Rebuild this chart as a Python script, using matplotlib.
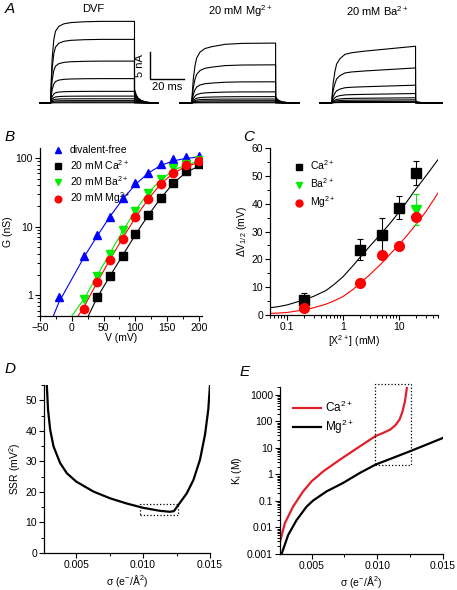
import numpy as np
import matplotlib.pyplot as plt
from matplotlib.ticker import MultipleLocator, NullFormatter, LogLocator
from matplotlib.lines import Line2D

plt.rcParams['font.family'] = ['Liberation Sans', 'DejaVu Sans']
plt.rcParams['mathtext.fontset'] = 'custom'
plt.rcParams['mathtext.rm'] = 'Liberation Sans'
plt.rcParams['mathtext.it'] = 'Liberation Sans:italic'
plt.rcParams['mathtext.default'] = 'regular'

# ---------------- panel A: current traces (nA) ----------------
rise_t = [0, 0.5, 1, 2, 3, 5, 8, 12, 20, 30, 50]
dvf_frac = [0, 0.3, 0.55, 0.78, 0.88, 0.94, 0.97, 0.985, 0.995, 1.0, 1.0]
mg_frac = [0, 0.2, 0.4, 0.62, 0.75, 0.85, 0.91, 0.94, 0.98, 0.995, 1.0]
ba_frac = [0, 0.2, 0.38, 0.58, 0.72, 0.82, 0.9, 0.93, 0.96, 0.99, 1.05]
tail_t = [0, 1, 2, 4, 7, 10, 14]
tail_frac = [1, 0.6, 0.38, 0.18, 0.07, 0.02, 0]

dvf_amp = [15.4, 12.0, 7.9, 4.6, 2.2, 1.3, 0.8, 0.45, 0.2, 0.05]
dvf_tail = [2.6, 2.3, 1.9, 1.5, 1.1, 0.8, 0.5, 0.3, 0.1, 0.0]
mg_amp = [11.3, 7.2, 4.0, 2.1, 1.2, 0.75, 0.43, 0.2, 0.05]
mg_tail = [1.2, 1.0, 0.8, 0.6, 0.4, 0.25, 0.15, 0.05, 0.0]
ba_amp = [10.2, 6.3, 3.2, 1.7, 0.94, 0.57, 0.3, 0.1]
ba_tail = [0.4, 0.3, 0.2, 0.15, 0.1, 0.05, 0.02, 0.0]

# ---------------- panel B: G-V ----------------
v_df = [-20, 20, 40, 60, 80, 100, 120, 140, 160, 180, 200]
g_df = [0.94, 3.8, 7.5, 14, 26, 43, 61, 83, 97, 102, 107]
v_div = [20, 40, 60, 80, 100, 120, 140, 160, 180, 200]
g_ba = [0.87, 1.9, 4.0, 8.9, 17, 31, 49, 71, 83, 93]
g_mg = [0.64, 1.56, 3.25, 6.7, 13.8, 25, 42, 61, 79, 91]
v_ca = [40, 60, 80, 100, 120, 140, 160, 180, 200]
g_ca = [0.95, 1.9, 3.75, 7.7, 15, 26, 44, 64, 83]

fit_v_df = [-29, -20, 20, 40, 60, 80, 100, 120, 140, 160, 180, 205]
fit_g_df = [0.5, 0.8, 3.7, 7.3, 14, 25, 41, 60, 78, 91, 99, 104]
fit_v_ba = [0, 20, 40, 60, 80, 100, 120, 140, 160, 180, 205]
fit_g_ba = [0.5, 0.9, 1.95, 4.1, 8.6, 17, 31, 48, 66, 80, 92]
fit_v_mg = [10, 20, 40, 60, 80, 100, 120, 140, 160, 180, 205]
fit_g_mg = [0.5, 0.7, 1.55, 3.3, 6.8, 13.5, 25, 42, 60, 76, 88]
fit_v_ca = [26, 40, 60, 80, 100, 120, 140, 160, 180, 205]
fit_g_ca = [0.5, 0.93, 1.9, 3.8, 7.6, 14.5, 26, 43, 62, 80]

# ---------------- panel C: dV1/2 vs [X2+] ----------------
conc = [0.2, 2, 5, 10, 20]
dv_ca = [5.4, 23.5, 28.7, 38.6, 51.0]
dv_ca_err = [2.6, 3.9, 6.0, 4.0, 4.2]
dv_mg = [2.4, 11.6, 21.5, 24.8, 35.2]
dv_mg_err = [0.6, 0.7, 1.3, 1.3, 1.0]
conc_ba = [20]
dv_ba = [37.9]
dv_ba_err = [5.4]
fit_conc = [0.05, 0.07, 0.1, 0.2, 0.3, 0.5, 0.7, 1, 1.5, 2, 3, 5, 7, 10, 14, 20, 30, 50]
fit_dv_ca = [2.6, 3.0, 3.6, 5.4, 6.7, 8.8, 11.0, 13.7, 17.6, 20.6, 24.6, 29.6, 33.0,
             36.9, 40.8, 45.2, 49.8, 55.8]
fit_dv_mg = [0.6, 0.7, 0.9, 1.8, 2.6, 3.9, 5.1, 6.6, 9.1, 11.3, 14.4, 18.7, 21.9,
             25.2, 28.6, 32.4, 37.0, 43.8]

# ---------------- panel D: SSR vs sigma ----------------
sig_d = [0.00281, 0.0029, 0.00306, 0.00331, 0.00381, 0.00431, 0.0050, 0.0063,
         0.00754, 0.00878, 0.0100, 0.01127, 0.0120, 0.0123, 0.01326, 0.01376,
         0.01425, 0.01463, 0.01487, 0.0150]
ssr = [55, 47, 40.4, 34.9, 29.4, 26.1, 23.4, 20.1, 17.9, 16.2, 14.8, 13.8,
       13.5, 13.7, 19.5, 23.9, 30.5, 38.8, 46.9, 55]

# ---------------- panel E: Ki vs sigma ----------------
sig_ca = [0.0026, 0.00297, 0.0036, 0.00436, 0.0050, 0.00588, 0.00715, 0.00842,
          0.00986, 0.0105, 0.0110, 0.0114, 0.0117, 0.0119, 0.0121, 0.01226]
ki_ca = [0.0029, 0.0145, 0.062, 0.23, 0.55, 1.3, 3.6, 9.5, 28, 38, 50, 74, 120,
         220, 560, 2000]
sig_mg = [0.00272, 0.00322, 0.00386, 0.00462, 0.00512, 0.00614, 0.0074,
          0.00867, 0.00986, 0.0126, 0.0150]
ki_mg = [0.001, 0.0052, 0.019, 0.061, 0.104, 0.23, 0.48, 1.14, 2.35, 7.9, 24]

W, H = 457, 590
fig = plt.figure(figsize=(W / 100, H / 100), dpi=100)


def px_axes(l, t, r, b):
    return fig.add_axes([l / W, 1 - b / H, (r - l) / W, (b - t) / H])


def ftext(x, y, s, **kw):
    fig.text(x / W, 1 - y / H, s, **kw)


def style(ax):
    ax.spines['top'].set_visible(False)
    ax.spines['right'].set_visible(False)
    for s in ['left', 'bottom']:
        ax.spines[s].set_linewidth(0.9)
    ax.tick_params(which='major', direction='out', length=3.5, width=0.8, labelsize=7.5, pad=1.5)
    ax.tick_params(which='minor', direction='out', length=2, width=0.7)


FS = 7.5

# ---------- A ----------
axA = px_axes(30, 15, 450, 110)
axA.set_xlim(0, 250)
axA.set_ylim(-1.32, 16.6)
axA.axis('off')


def draw_traces(amps, tails, frac, onset, pre, post):
    for a, tl in zip(amps, tails):
        t = [onset - pre] + [onset + x for x in rise_t] + [onset + 50] + \
            [onset + 50 + x for x in tail_t] + [onset + 50 + post]
        y = [0] + [a * f for f in frac] + [tl * tail_frac[0]] + \
            [tl * f for f in tail_frac] + [0]
        axA.plot(t, y, color='black', lw=0.8)


draw_traces(dvf_amp, dvf_tail, dvf_frac, 12.2, 6.2, 13.4)
draw_traces(mg_amp, mg_tail, mg_frac, 96.2, 6.9, 8.0)
draw_traces(ba_amp, ba_tail, ba_frac, 179.5, 7.0, 16.0)

# scale bar
axA.plot([71.4, 71.4, 91.4], [9.6, 4.6, 4.6], color='black', lw=1.0)
axA.text(68.5, 7.1, '5 nA', rotation=90, ha='right', va='center', fontsize=8)
axA.text(81.4, 3.9, '20 ms', ha='center', va='top', fontsize=8)

ftext(93, 9, 'DVF', ha='center', va='center', fontsize=8)
ftext(240, 11, '20 mM Mg$^{2+}$', ha='center', va='center', fontsize=8)
ftext(377, 11, '20 mM Ba$^{2+}$', ha='center', va='center', fontsize=8)

# ---------- B ----------
axB = px_axes(40, 148, 202, 316)
style(axB)
axB.plot(fit_v_df, fit_g_df, color='#0000ff', lw=0.8)
axB.plot(fit_v_ba, fit_g_ba, color='#00ee00', lw=0.8)
axB.plot(fit_v_mg, fit_g_mg, color='#ff0000', lw=0.8)
axB.plot(fit_v_ca, fit_g_ca, color='black', lw=0.8)
axB.plot(v_df, g_df, '^', color='#0000ff', ms=6, label='divalent-free')
axB.plot(v_ca, g_ca, 's', color='black', ms=5.5, label='20 mM Ca$^{2+}$')
axB.plot(v_div, g_ba, 'v', color='#00ee00', ms=6, label='20 mM Ba$^{2+}$')
axB.plot(v_div, g_mg, 'o', color='#ff0000', ms=6, label='20 mM Mg$^{2+}$')
axB.set_yscale('log')
axB.set_ylim(0.5, 140)
axB.set_xlim(-50, 205)
axB.set_yticks([1, 10, 100])
axB.set_yticklabels(['1', '10', '100'])
axB.yaxis.set_minor_locator(LogLocator(subs=np.arange(2, 10)))
axB.yaxis.set_minor_formatter(NullFormatter())
axB.set_xticks([-50, 0, 50, 100, 150, 200])
axB.xaxis.set_minor_locator(MultipleLocator(25))
axB.set_xlabel('V (mV)', fontsize=FS, labelpad=0)
axB.set_ylabel('G (nS)', fontsize=FS, labelpad=2)
axB.legend(loc='upper left', bbox_to_anchor=(0.03, 1.06), frameon=False, fontsize=FS,
           handlelength=1.2, handletextpad=0.5, labelspacing=0.25, borderpad=0.2,
           markerscale=0.8)

# ---------- C ----------
axC = px_axes(270, 148, 438, 315)
style(axC)
axC.plot(fit_conc, fit_dv_ca, color='black', lw=0.8)
axC.plot(fit_conc, fit_dv_mg, color='#ff0000', lw=0.8)
axC.errorbar(conc, dv_ca, yerr=dv_ca_err, fmt='s', color='black', ms=7, capsize=2.5,
             elinewidth=0.8, capthick=0.8)
axC.errorbar(conc_ba, dv_ba, yerr=dv_ba_err, fmt='v', color='#00ee00', ms=7, capsize=2.5,
             elinewidth=0.8, capthick=0.8)
axC.errorbar(conc, dv_mg, yerr=dv_mg_err, fmt='o', color='#ff0000', ms=7, capsize=2.5,
             elinewidth=0.8, capthick=0.8)
c_handles = [Line2D([], [], ls='none', marker='s', color='black', ms=5),
             Line2D([], [], ls='none', marker='v', color='#00ee00', ms=5),
             Line2D([], [], ls='none', marker='o', color='#ff0000', ms=5)]
axC.legend(c_handles, ['Ca$^{2+}$', 'Ba$^{2+}$', 'Mg$^{2+}$'], loc='upper left',
           bbox_to_anchor=(0.1, 0.98), frameon=False, fontsize=FS,
           handlelength=1.0, handletextpad=0.5, labelspacing=0.4, borderpad=0.2)
axC.set_xscale('log')
axC.set_xlim(0.05, 50)
axC.set_ylim(0, 60)
axC.set_xticks([0.1, 1, 10])
axC.set_xticklabels(['0.1', '1', '10'])
axC.xaxis.set_minor_locator(LogLocator(subs=np.arange(2, 10)))
axC.xaxis.set_minor_formatter(NullFormatter())
axC.yaxis.set_major_locator(MultipleLocator(10))
axC.yaxis.set_minor_locator(MultipleLocator(5))
axC.set_xlabel('[X$^{2+}$] (mM)', fontsize=FS, labelpad=1)
axC.set_ylabel(r'$\Delta$V$_{1/2}$ (mV)', fontsize=FS, labelpad=2)

# ---------- D ----------
axD = px_axes(44, 385, 210, 553)
style(axD)
axD.plot(sig_d, ssr, color='black', lw=1.6)
axD.plot([0.00978, 0.0126, 0.0126, 0.00978, 0.00978], [12.4, 12.4, 15.9, 15.9, 12.4],
         color='black', lw=0.9, ls=':')
axD.set_xlim(0.0026, 0.015)
axD.set_ylim(0, 55)
axD.set_xticks([0.005, 0.010, 0.015])
axD.set_xticklabels(['0.005', '0.010', '0.015'])
axD.xaxis.set_minor_locator(MultipleLocator(0.0025))
axD.yaxis.set_major_locator(MultipleLocator(10))
axD.yaxis.set_minor_locator(MultipleLocator(5))
axD.set_xlabel(u'\u03c3 (e$^{-}$/\u00c5$^{2}$)', fontsize=FS, labelpad=2)
axD.set_ylabel('SSR (mV$^{2}$)', fontsize=FS, labelpad=2)

# ---------- E ----------
axE = px_axes(280, 387, 443, 554)
style(axE)
axE.plot(sig_ca, ki_ca, color='#e0202a', lw=1.6, label='Ca$^{2+}$')
axE.plot(sig_mg, ki_mg, color='black', lw=1.6, label='Mg$^{2+}$')
axE.plot([0.00986, 0.0126, 0.0126, 0.00986, 0.00986], [2.2, 2.2, 2500, 2500, 2.2],
         color='black', lw=0.9, ls=':', clip_on=False)
axE.set_yscale('log')
axE.set_xlim(0.0026, 0.015)
axE.set_ylim(0.001, 2000)
axE.set_yticks([0.001, 0.01, 0.1, 1, 10, 100, 1000])
axE.set_yticklabels(['0.001', '0.01', '0.1', '1', '10', '100', '1000'])
axE.yaxis.set_minor_locator(LogLocator(subs=np.arange(2, 10)))
axE.yaxis.set_minor_formatter(NullFormatter())
axE.set_xticks([0.005, 0.010, 0.015])
axE.set_xticklabels(['0.005', '0.010', '0.015'])
axE.xaxis.set_minor_locator(MultipleLocator(0.0025))
axE.set_xlabel(u'\u03c3 (e$^{-}$/\u00c5$^{2}$)', fontsize=FS, labelpad=2)
axE.set_ylabel('K$_{i}$ (M)', fontsize=FS, labelpad=2)
axE.legend(loc='upper left', bbox_to_anchor=(0.03, 0.97), frameon=False, fontsize=8.5,
           handlelength=2.4, handletextpad=0.3, labelspacing=0.2, borderpad=0.2)

# panel letters
for lab, x, y in [('A', 5, 9), ('B', 5, 137), ('C', 243, 137), ('D', 5, 369), ('E', 240, 372)]:
    ftext(x, y, lab, fontsize=11, style='italic', ha='left', va='center')

fig.savefig('out.png', dpi=100)
